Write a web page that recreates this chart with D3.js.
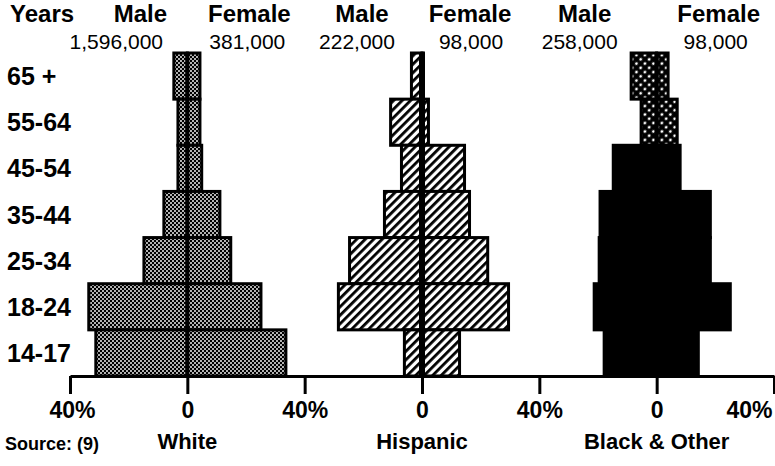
<!DOCTYPE html>
<meta charset="utf-8">
<style>
  body { margin: 0; background: #fff; }
  text { font-family: "Liberation Sans", Arial, sans-serif; fill: #000; }
</style>
<body>
<script src="https://d3js.org/d3.v7.min.js"></script>
<script>
// age bands, top to bottom
var ages = ["65 +", "55-64", "45-54", "35-44", "25-34", "18-24", "14-17"];
var groups = ["White", "Hispanic", "Black & Other"];
var maleTotals = ["1,596,000", "222,000", "258,000"];
var femaleTotals = ["381,000", "98,000", "98,000"];

// percent of each group's total
var whiteMale     = [4.6, 3.2, 3.2, 8.0, 14.8, 33.6, 31.2];
var whiteFemale   = [4.3, 4.3, 4.9, 11.1, 14.8, 25.1, 33.6];
var hispanicMale  = [3.6, 10.7, 7.0, 12.8, 24.7, 28.5, 6.0];
var hispanicFemale= [0.5, 2.2, 14.5, 16.2, 22.4, 29.5, 12.8];
var blackMale     = [8.7, 5.3, 14.8, 19.3, 19.6, 21.3, 17.9];
var blackFemale   = [3.9, 7.0, 8.0, 18.3, 18.3, 25.1, 14.2];

var tickValues = [-40, 0, 40, 80, 120, 160, 200];
var tickLabels = ["40%", "0", "40%", "0", "40%", "0", "40%"];

var males = [whiteMale, hispanicMale, blackMale];
var females = [whiteFemale, hispanicFemale, blackFemale];

var width = 775, height = 466;
var svg = d3.select("body").append("svg")
    .attr("width", width)
    .attr("height", height);
svg.append("rect").attr("width", width).attr("height", height).attr("fill", "#fff");

// patterns for the three pyramids
var defs = svg.append("defs");
var dots = defs.append("pattern").attr("id", "dots")
    .attr("patternUnits", "userSpaceOnUse").attr("width", 4).attr("height", 4);
dots.append("rect").attr("width", 4).attr("height", 4).attr("fill", "#000");
dots.append("circle").attr("cx", 1).attr("cy", 1).attr("r", 0.95).attr("fill", "#fff");
dots.append("circle").attr("cx", 3).attr("cy", 3).attr("r", 0.95).attr("fill", "#fff");

var hatch = defs.append("pattern").attr("id", "hatch")
    .attr("patternUnits", "userSpaceOnUse").attr("width", 6).attr("height", 6)
    .attr("patternTransform", "rotate(45)");
hatch.append("rect").attr("width", 6).attr("height", 6).attr("fill", "#fff");
hatch.append("rect").attr("width", 2.8).attr("height", 6).attr("fill", "#000");

var coarse = defs.append("pattern").attr("id", "coarse")
    .attr("patternUnits", "userSpaceOnUse").attr("width", 6).attr("height", 6)
    .attr("patternTransform", "rotate(45)");
coarse.append("rect").attr("width", 6).attr("height", 6).attr("fill", "#000");
coarse.append("circle").attr("cx", 3).attr("cy", 3).attr("r", 1.4).attr("fill", "#fff");

// scales
var gx = d3.scaleLinear().domain([-40, 200]).range([70, 774]);
var center = d3.scaleOrdinal().domain(groups).range([0, 80, 160]);
var y = d3.scaleBand().domain(ages).range([53, 376]);

function fillFor(gi, i) {
  if (gi == 0) return "url(#dots)";
  if (gi == 1) return "url(#hatch)";
  return i < 2 ? "url(#coarse)" : "#000";
}

// bars
groups.forEach(function(g, gi) {
  var c = center(g);
  var rows = ages.map(function(a, i) { return {age: a, m: males[gi][i], f: females[gi][i], i: i}; });
  var gr = svg.append("g").attr("class", "pyramid");
  var row = gr.selectAll(".row").data(rows).enter().append("g");
  row.append("rect")
      .attr("x", function(d) { return gx(c - d.m); })
      .attr("y", function(d) { return y(d.age); })
      .attr("width", function(d) { return gx(c) - gx(c - d.m); })
      .attr("height", y.bandwidth())
      .attr("fill", function(d) { return fillFor(gi, d.i); })
      .attr("stroke", "#000").attr("stroke-width", 3);
  row.append("rect")
      .attr("x", gx(c))
      .attr("y", function(d) { return y(d.age); })
      .attr("width", function(d) { return gx(c + d.f) - gx(c); })
      .attr("height", y.bandwidth())
      .attr("fill", function(d) { return fillFor(gi, d.i); })
      .attr("stroke", "#000").attr("stroke-width", 3);
  // centre line
  gr.append("line")
      .attr("x1", gx(c)).attr("x2", gx(c))
      .attr("y1", y(ages[0])).attr("y2", 376)
      .attr("stroke", "#000").attr("stroke-width", gi == 1 ? 6 : 4);
});

// axis
var axis = svg.append("g")
    .attr("transform", "translate(0,376)")
    .call(d3.axisBottom(gx).tickValues(tickValues).tickSize(18).tickSizeOuter(0)
          .tickFormat(function(d, i) { return tickLabels[i]; }));
axis.select(".domain").attr("stroke", "#000").attr("stroke-width", 3);
axis.selectAll(".tick line").attr("stroke", "#000").attr("stroke-width", 3);
axis.selectAll(".tick text")
    .attr("y", 26)
    .style("font-family", "Liberation Sans, Arial, sans-serif")
    .style("font-size", "23px").style("font-weight", "bold").attr("fill", "#000");
axis.selectAll(".tick text").filter(function(d) { return d == 200; })
    .attr("text-anchor", "end").attr("x", -2);
axis.selectAll(".tick text").filter(function(d) { return d == -40; })
    .attr("x", 2);

// group names under the axis
svg.selectAll(".groupName").data(groups).enter().append("text")
    .attr("x", function(d) { return gx(center(d)); })
    .attr("y", 449)
    .attr("text-anchor", "middle")
    .style("font-size", "22px").style("font-weight", "bold")
    .text(function(d) { return d; });

svg.append("text").attr("x", 5).attr("y", 450)
    .style("font-size", "18px").style("font-weight", "bold")
    .text("Source: (9)");

// age labels
svg.selectAll(".age").data(ages).enter().append("text")
    .attr("x", 7)
    .attr("y", function(d) { return y(d) + y.bandwidth() / 2; })
    .attr("dy", "0.36em")
    .style("font-size", "25px").style("font-weight", "bold")
    .text(function(d) { return d; });

// header
svg.append("text").attr("x", 10).attr("y", 22)
    .style("font-size", "24px").style("font-weight", "bold").text("Years");

var labelOff = [[-47, 62], [-60, 48], [-72, 62]];
var numOff = [[-71, 60], [-65, 49], [-77, 59]];
groups.forEach(function(g, gi) {
  var cx = gx(center(g));
  svg.append("text").attr("x", cx + labelOff[gi][0]).attr("y", 22)
      .attr("text-anchor", "middle")
      .style("font-size", "24px").style("font-weight", "bold").text("Male");
  svg.append("text").attr("x", cx + labelOff[gi][1]).attr("y", 22)
      .attr("text-anchor", "middle")
      .style("font-size", "24px").style("font-weight", "bold").text("Female");
  svg.append("text").attr("x", cx + numOff[gi][0]).attr("y", 49)
      .attr("text-anchor", "middle")
      .style("font-size", "21px").text(maleTotals[gi]);
  svg.append("text").attr("x", cx + numOff[gi][1]).attr("y", 49)
      .attr("text-anchor", "middle")
      .style("font-size", "21px").text(femaleTotals[gi]);
});
</script>
</body>
